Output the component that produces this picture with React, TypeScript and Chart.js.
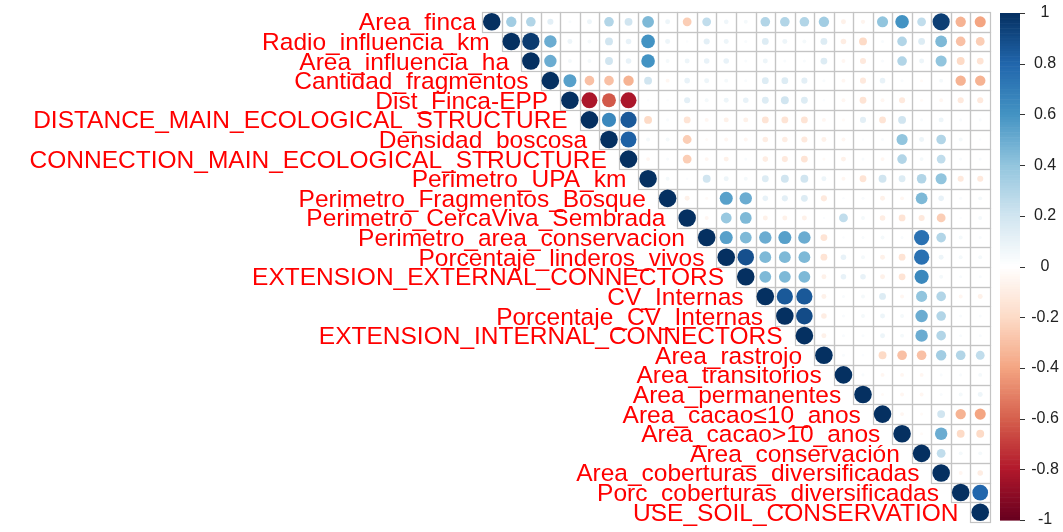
import React, { useEffect, useRef } from "react";
import { Chart, registerables } from "chart.js";

Chart.register(...registerables);

// Variable names, in matrix order (rows top to bottom, columns left to right)
const variables = [
  "Area_finca",
  "Radio_influencia_km",
  "Area_influencia_ha",
  "Cantidad_fragmentos",
  "Dist_Finca-EPP",
  "DISTANCE_MAIN_ECOLOGICAL_STRUCTURE",
  "Densidad_boscosa",
  "CONNECTION_MAIN_ECOLOGICAL_STRUCTURE",
  "Perimetro_UPA_km",
  "Perimetro_Fragmentos_Bosque",
  "Perimetro_CercaViva_Sembrada",
  "Perimetro_area_conservacion",
  "Porcentaje_linderos_vivos",
  "EXTENSION_EXTERNAL_CONNECTORS",
  "CV_Internas",
  "Porcentaje_CV_Internas",
  "EXTENSION_INTERNAL_CONNECTORS",
  "Area_rastrojo",
  "Area_transitorios",
  "Area_permanentes",
  "Area_cacao≤10_anos",
  "Area_cacao>10_anos",
  "Area_conservación",
  "Area_coberturas_diversificadas",
  "Porc_coberturas_diversificadas",
  "USE_SOIL_CONSERVATION",
];

// Upper-triangle correlations: each row lists the values to the right of its diagonal
const r01 = [0.35, 0.3, 0.12, 0.03, 0.08, 0.3, 0.2, 0.45, 0.08, -0.25, 0.25, 0.07, 0.05, 0.3, 0.3, 0.3, 0.35, -0.08, -0.06, 0.4, 0.6, 0.25, 0.95, -0.35, -0.4];
const r02 = [0.96, 0.5, 0.08, 0.05, 0.2, 0.1, 0.6, 0.08, 0.02, 0.12, 0.08, 0.03, 0.15, 0.08, 0.05, 0.15, -0.1, -0.2, 0.03, 0.3, 0.15, 0.45, -0.3, -0.25];
const r03 = [0.5, 0.05, 0.05, 0.2, 0.1, 0.6, 0.05, 0.08, 0.1, 0.1, 0.03, 0.08, 0.03, 0.03, 0.15, -0.05, -0.12, 0.03, 0.3, 0.08, 0.4, -0.2, -0.15];
const r04 = [0.55, -0.3, -0.3, -0.35, 0.2, -0.05, 0.1, 0.08, 0.05, 0.03, 0.15, 0.15, 0.12, 0.03, -0.05, -0.12, 0.1, 0.03, -0.03, 0.05, -0.35, -0.35];
const r05 = [-0.82, -0.62, -0.82, 0.02, 0.02, 0.12, 0.05, 0.08, 0.1, 0.15, 0.2, 0.15, 0.02, -0.05, -0.15, -0.05, -0.12, -0.03, -0.05, -0.12, -0.12];
const r06 = [0.65, 0.85, -0.2, 0.03, -0.15, -0.05, -0.08, -0.08, -0.15, -0.15, -0.15, -0.05, -0.03, 0.12, -0.15, 0.2, 0.03, 0.08, 0.03, 0.03];
const r07 = [0.82, 0.05, 0.05, -0.25, -0.03, -0.05, -0.05, -0.1, -0.1, -0.12, -0.08, -0.05, 0.02, 0.03, 0.4, 0.08, 0.3, 0.05, 0.02];
const r08 = [-0.05, 0.03, -0.25, -0.05, -0.08, 0.03, -0.1, -0.12, -0.15, -0.03, -0.08, 0.03, -0.05, 0.3, 0.05, 0.25, 0.03, 0.03];
const r09 = [0.05, 0.02, 0.2, 0.08, 0.05, 0.15, 0.2, 0.2, 0.08, -0.05, -0.15, 0.2, 0.15, 0.3, 0.4, -0.12, -0.12];
const r10 = [-0.08, -0.03, 0.55, 0.5, 0.1, 0.12, 0.15, -0.12, 0.02, 0.03, -0.08, -0.05, 0.45, 0.1, 0.03, 0.05];
const r11 = [-0.05, 0.38, 0.45, -0.08, -0.08, -0.08, 0.02, 0.25, 0.05, -0.1, -0.15, -0.12, -0.25, 0.02, 0.05];
const r12 = [0.55, 0.45, 0.5, 0.55, 0.5, -0.15, 0.02, 0.03, 0.05, 0.03, 0.75, 0.3, 0.05, 0.03];
const r13 = [0.88, 0.45, 0.45, 0.45, -0.15, 0.1, 0.05, -0.08, -0.15, 0.75, 0.08, 0.05, 0.05];
const r14 = [0.45, 0.45, 0.45, -0.08, 0.1, 0.1, -0.08, -0.15, 0.65, 0.05, 0.03, 0.03];
const r15 = [0.85, 0.85, -0.08, 0.03, 0.05, 0.15, -0.05, 0.4, 0.3, -0.05, -0.08];
const r16 = [0.9, -0.1, 0.03, 0.05, 0.08, 0.05, 0.5, 0.3, 0.03, 0.03];
const r17 = [-0.08, 0.03, 0.03, 0.08, 0.05, 0.5, 0.3, 0.03, 0.03];
const r18 = [0.03, 0.02, -0.2, -0.3, -0.3, 0.35, 0.3, 0.25];
const r19 = [0.03, -0.05, -0.05, -0.05, 0.03, 0.03, 0.05];
const r20 = [-0.03, -0.05, -0.05, 0.03, 0.05, 0.08];
const r21 = [-0.05, -0.03, 0.2, -0.35, -0.4];
const r22 = [-0.03, 0.5, -0.2, -0.2];
const r23 = [0.25, 0.05, 0.05];
const r24 = [-0.05, -0.1];
const r25 = [0.8];

const upperRows = [r01, r02, r03, r04, r05, r06, r07, r08, r09, r10, r11, r12, r13, r14, r15, r16, r17, r18, r19, r20, r21, r22, r23, r24, r25];

// Colour legend tick values
const legendTicks = [1, 0.8, 0.6, 0.4, 0.2, 0, -0.2, -0.4, -0.6, -0.8, -1];

// Diverging red-blue palette, from -1 to +1
const palette = ["#67001F", "#B2182B", "#D6604D", "#F4A582", "#FDDBC7", "#FFFFFF", "#D1E5F0", "#92C5DE", "#4393C3", "#2166AC", "#053061"];

function hexToRgb(h: string) {
  return [parseInt(h.slice(1, 3), 16), parseInt(h.slice(3, 5), 16), parseInt(h.slice(5, 7), 16)];
}

function colorFor(v: number) {
  const t = Math.max(0, Math.min(10, ((v + 1) / 2) * 10));
  const i = Math.min(9, Math.floor(t));
  const f = t - i;
  const a = hexToRgb(palette[i]);
  const b = hexToRgb(palette[i + 1]);
  const c = a.map((x, k) => Math.round(x + (b[k] - x) * f));
  return `rgb(${c[0]},${c[1]},${c[2]})`;
}

type Cell = { x: number; y: number; v: number };

const cells: Cell[] = [];
variables.forEach((_, i) => {
  cells.push({ x: i + 1, y: i + 1, v: 1 });
  const row = upperRows[i] || [];
  row.forEach((v, k) => cells.push({ x: i + 2 + k, y: i + 1, v }));
});

const n = variables.length;
const labelFont = '24.5px "Liberation Sans", Arial, sans-serif';
const tickFont = '16px "Liberation Sans", Arial, sans-serif';

function cellSize(chart: any) {
  const sx = chart.scales.x;
  const sy = chart.scales.y;
  const cw = Math.abs(sx.getPixelForValue(2) - sx.getPixelForValue(1));
  const ch = Math.abs(sy.getPixelForValue(2) - sy.getPixelForValue(1));
  return { cw, ch };
}

// Grey cell outlines for the upper triangle
const gridPlugin = {
  id: "corrGrid",
  beforeDatasetsDraw(chart: any) {
    const { ctx } = chart;
    const sx = chart.scales.x;
    const sy = chart.scales.y;
    ctx.save();
    ctx.strokeStyle = "#c4c4c4";
    ctx.lineWidth = 1.2;
    for (let r = 1; r <= n; r++) {
      for (let c = r; c <= n; c++) {
        const x0 = sx.getPixelForValue(c - 0.5);
        const x1 = sx.getPixelForValue(c + 0.5);
        const y0 = sy.getPixelForValue(r - 0.5);
        const y1 = sy.getPixelForValue(r + 0.5);
        ctx.strokeRect(Math.round(x0) + 0.5, Math.round(y0) + 0.5, Math.round(x1) - Math.round(x0), Math.round(y1) - Math.round(y0));
      }
    }
    ctx.restore();
  },
};

// Row labels beside the diagonal, and the colour legend on the right
const labelPlugin = {
  id: "corrLabels",
  afterDatasetsDraw(chart: any) {
    const { ctx, chartArea } = chart;
    const sx = chart.scales.x;
    const sy = chart.scales.y;
    ctx.save();
    ctx.font = labelFont;
    ctx.fillStyle = "#FF0000";
    ctx.textAlign = "right";
    ctx.textBaseline = "alphabetic";
    variables.forEach((name, i) => {
      const x = sx.getPixelForValue(i + 1 - 0.5) - (i === 0 ? 6 : 12);
      const y = sy.getPixelForValue(i + 1) + 8.5;
      ctx.fillText(name, x, y);
    });

    // colour bar
    const left = chartArea.right + 10;
    const width = 20;
    const top = chartArea.top + 1;
    const bottom = chartArea.bottom - 2;
    const steps = 200;
    const h = (bottom - top) / steps;
    for (let s = 0; s < steps; s++) {
      const v = 1 - ((s + 0.5) / steps) * 2;
      ctx.fillStyle = colorFor(v);
      ctx.fillRect(left, top + s * h, width, h + 0.6);
    }
    ctx.strokeStyle = "#333";
    ctx.lineWidth = 1;
    ctx.fillStyle = "#222";
    ctx.font = tickFont;
    ctx.textAlign = "center";
    ctx.textBaseline = "middle";
    legendTicks.forEach((t) => {
      const y = top + ((1 - t) / 2) * (bottom - top);
      ctx.beginPath();
      ctx.moveTo(left + width, Math.round(y) + 0.5);
      ctx.lineTo(left + width + 5, Math.round(y) + 0.5);
      ctx.stroke();
      ctx.fillText(String(t), left + width + 25, y);
    });
    ctx.restore();
  },
};

export default function App() {
  const canvasRef = useRef<HTMLCanvasElement | null>(null);

  useEffect(() => {
    if (!canvasRef.current) return;
    const chart = new Chart(canvasRef.current, {
      type: "scatter",
      data: {
        datasets: [
          {
            data: cells as any,
            pointRadius: (ctx: any) => {
              const raw = ctx.raw as Cell | undefined;
              if (!raw) return 0;
              const { cw, ch } = cellSize(ctx.chart);
              return 0.45 * Math.min(cw, ch) * Math.sqrt(Math.abs(raw.v));
            },
            pointBackgroundColor: (ctx: any) => {
              const raw = ctx.raw as Cell | undefined;
              return raw ? colorFor(raw.v) : "#fff";
            },
            pointBorderWidth: 0,
            pointBorderColor: "rgba(0,0,0,0)",
            pointHoverRadius: 0,
          } as any,
        ],
      },
      options: {
        responsive: false,
        animation: false,
        events: [],
        layout: { padding: { left: 482, right: 73, top: 12, bottom: 10 } },
        plugins: { legend: { display: false }, tooltip: { enabled: false } },
        scales: {
          x: { type: "linear", min: 0.5, max: n + 0.5, display: false },
          y: { type: "linear", min: 0.5, max: n + 0.5, reverse: true, display: false },
        },
      },
      plugins: [gridPlugin, labelPlugin],
    });
    return () => chart.destroy();
  }, []);

  return (
    <div style={{ position: "absolute", left: 0, top: 0, width: 1063, height: 532, background: "#fff" }}>
      <canvas ref={canvasRef} width={1063} height={532} />
    </div>
  );
}
